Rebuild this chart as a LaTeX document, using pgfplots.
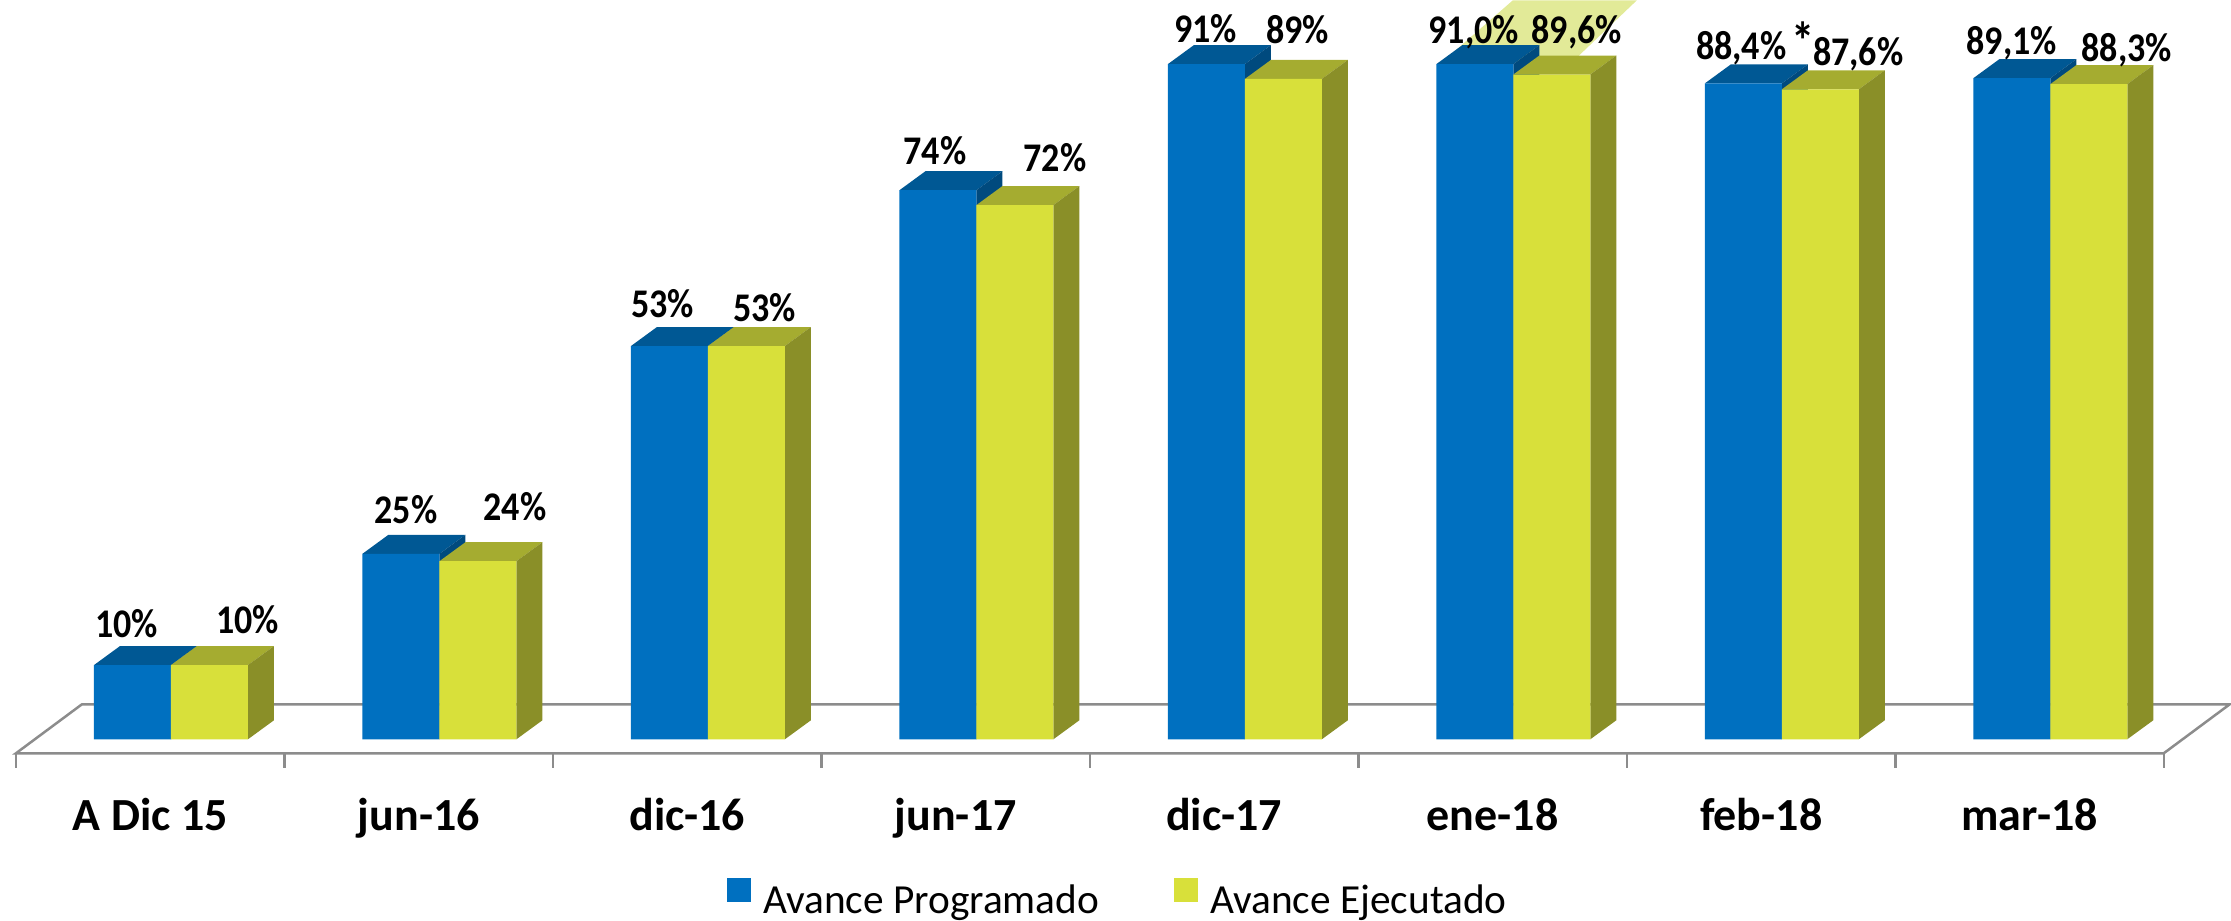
\documentclass[border=0pt]{standalone}
\usepackage{pgfplots}
\usepackage{pgfplotstable}
\pgfplotsset{compat=1.18}
\usepackage{fontspec}
\setmainfont{Carlito}
\definecolor{blueF}{RGB}{0,112,192}
\definecolor{blueT}{RGB}{0,88,148}
\definecolor{blueS}{RGB}{0,74,126}
\definecolor{yelF}{RGB}{216,224,58}
\definecolor{yelT}{RGB}{165,172,48}
\definecolor{yelS}{RGB}{138,143,40}
\definecolor{bandc}{RGB}{226,234,152}
\definecolor{floorc}{RGB}{140,140,140}
\newcommand\bigast{\rlap{\hspace{1.5pt}\fontsize{14}{14}\selectfont *}}

\pgfplotstableread{
x prog ejec lp le dxp dxe dyp dye
0 10 10 10\% 10\% -6 38 28 32
1 25 24 25\% 24\% 5 37 30 41
2 53 53 53\% 53\% -7 18 29 25
3 74 72 74\% 72\% -3 40 26 34
4 91 89 91\% 89\% -1 14 22 35
5 91.0 89.6 91,0\% 89,6\% -1 25 21 31
6 88.4 87.6 {88,4\%\bigast} 87,6\% -2 38 24 24
7 89.1 88.3 89,1\% 88,3\% 0 38 24 23
}\datatab

\begin{document}
\begin{tikzpicture}
\begin{axis}[
  scale only axis, width=669.3pt, height=276pt,
  xmin=-0.6369, xmax=7.6723, ymin=-24.39, ymax=99.60,
  clip=false,
  axis line style={draw=none},
  major tick length=0pt,
  ytick=\empty,
  xtick={0,...,7},
  xticklabels={A Dic 15, jun-16, dic-16, jun-17, dic-17, ene-18, feb-18, mar-18},
  xticklabel style={anchor=base, yshift=27pt, xshift=-6.2pt, font=\bfseries\fontsize{13.8}{16}\selectfont},
  legend columns=2,
  legend cell align=left,
  legend style={at={(0.3259,0.0015)}, anchor=south west, draw=none, fill=none,
    inner sep=0pt, outer sep=0pt, font=\fontsize{12.4}{14}\selectfont,
    nodes={inner sep=0pt},
    /tikz/every odd column/.append style={column sep=3.6pt},
    /tikz/every even column/.append style={column sep=22.5pt}},
]
% highlight band and floor
\fill[bandc] (axis cs:4.7337,91.24) -- (axis cs:5.2179,91.24) -- (axis cs:5.4600,99.6) -- (axis cs:4.9981,99.6) -- cycle;
\draw[floorc, line width=0.75pt, line join=miter] (axis cs:-0.5773,-1.887) -- (axis cs:7.4227,-1.887) -- ++(19.8pt,14.7pt) -- ([shift={(19.8pt,14.7pt)}]axis cs:-0.5773,-1.887) -- cycle;
\pgfplotsinvokeforeach{0,...,8}{
  \pgfmathsetmacro\tx{#1-0.5773}
  \edef\temp{\noexpand\draw[floorc, line width=0.75pt] (axis cs:\tx,-1.887) -- ++(0pt,-4.5pt);}\temp
}
% 3D tops and sides
\pgfplotsinvokeforeach{0,...,7}{
  \pgfplotstablegetelem{#1}{prog}\of\datatab \let\vp\pgfplotsretval
  \pgfplotstablegetelem{#1}{ejec}\of\datatab \let\ve\pgfplotsretval
  \pgfmathsetmacro\xa{#1-0.28678}
  \pgfmathsetmacro\xc{#1+0.28678}
  \edef\temp{
    \noexpand\fill[blueT] (axis cs:\xa,\vp) -- (axis cs:#1,\vp) -- ++(7.8pt,5.7pt) -- ++(-23.1pt,0pt) -- cycle;
    \noexpand\fill[blueS] (axis cs:#1,\vp) -- ++(7.8pt,5.7pt) -- ([shift={(7.8pt,5.7pt)}]axis cs:#1,0) -- (axis cs:#1,0) -- cycle;
    \noexpand\fill[yelT] (axis cs:#1,\ve) -- (axis cs:\xc,\ve) -- ++(7.8pt,5.7pt) -- ++(-23.1pt,0pt) -- cycle;
    \noexpand\fill[yelS] (axis cs:\xc,\ve) -- ++(7.8pt,5.7pt) -- ([shift={(7.8pt,5.7pt)}]axis cs:\xc,0) -- (axis cs:\xc,0) -- cycle;
  }\temp
}
% front faces
\addplot[ybar, bar width=23.1pt, bar shift=-11.55pt, fill=blueF, draw=none,
  legend image code/.code={\fill[blueF] (0pt,0pt) rectangle (7.2pt,7.2pt);},
  point meta=explicit symbolic, nodes near coords={\scalebox{1}[1.13]{\pgfplotspointmeta}},
  visualization depends on={\thisrow{dxp} \as \ldx},
  visualization depends on={\thisrow{dyp} \as \ldy},
  every node near coord/.append style={anchor=base, xshift=0.3pt*\ldx-11.55pt, yshift=0.3pt*\ldy, font=\bfseries\fontsize{10.8}{12}\selectfont, text=black}]
  table[x=x, y=prog, meta=lp] {\datatab};
\addlegendentry{Avance Programado}
\addplot[ybar, bar width=23.1pt, bar shift=11.55pt, fill=yelF, draw=none,
  legend image code/.code={\fill[yelF] (0pt,0pt) rectangle (7.2pt,7.2pt);},
  point meta=explicit symbolic, nodes near coords={\scalebox{1}[1.13]{\pgfplotspointmeta}},
  visualization depends on={\thisrow{dxe} \as \ldx},
  visualization depends on={\thisrow{dye} \as \ldy},
  every node near coord/.append style={anchor=base, xshift=0.3pt*\ldx+11.55pt, yshift=0.3pt*\ldy, font=\bfseries\fontsize{10.8}{12}\selectfont, text=black}]
  table[x=x, y=ejec, meta=le] {\datatab};
\addlegendentry{Avance Ejecutado}
\end{axis}
\end{tikzpicture}
\end{document}
